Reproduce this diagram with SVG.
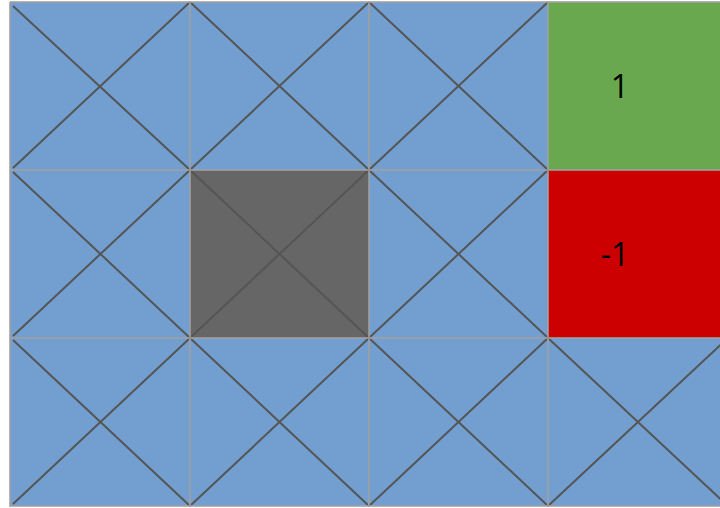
<svg xmlns="http://www.w3.org/2000/svg" width="720" height="508" viewBox="0 0 720 508">
<style>
.c{fill:#729fcf}
.g{stroke:#a0a0a0;stroke-opacity:0.8;stroke-width:2;fill:none}
.d{stroke:#555;stroke-width:2;fill:none}
.t{font-family:"Open Sans","Noto Sans",sans-serif;font-size:32px;fill:#000;text-anchor:middle}
</style>
<rect width="720" height="508" fill="#fff"/>
<g id="cells">
<rect id="c00" class="c" x="10" y="2" width="180" height="168"/>
<rect id="c01" class="c" x="190" y="2" width="179" height="168"/>
<rect id="c02" class="c" x="369" y="2" width="179" height="168"/>
<rect id="c10" class="c" x="10" y="170" width="180" height="168"/>
<rect id="c12" class="c" x="369" y="170" width="179" height="168"/>
<rect id="c20" class="c" x="10" y="338" width="180" height="168"/>
<rect id="c21" class="c" x="190" y="338" width="179" height="168"/>
<rect id="c22" class="c" x="369" y="338" width="179" height="168"/>
<rect id="c23" class="c" x="548" y="338" width="180" height="168"/>
</g>
<g id="wall"><rect x="190" y="170" width="179" height="168" fill="#666"/></g>
<g id="goal"><rect x="548" y="2" width="180" height="168" fill="#6aa84f"/><text class="t" x="620" y="98">1</text></g>
<g id="pit"><rect x="548" y="170" width="180" height="168" fill="#cc0000"/><text class="t" x="615" y="266">-1</text></g>
<g id="connectors">
<path class="d" d="M13,6 L190,170 M190,2 L13,168 M190,2 L369,170 M369,2 L190,170 M369,2 L548,170 M548,2 L369,170
M13,172 L190,338 M190,170 L13,336 M190,170 L369,338 M369,170 L190,338 M369,170 L548,338 M548,170 L369,338
M13,340 L190,506 M190,338 L13,504 M190,338 L369,506 M369,338 L190,506 M369,338 L548,506 M548,338 L369,506 M548,338 L728,506 M728,338 L548,506"/>
</g>
<g id="grid">
<path class="g" d="M10,2 H720 M10,170 H720 M10,338 H720 M10,506 H720 M10,2 V507 M190,2 V507 M369,2 V507 M548,2 V507"/>
</g>
</svg>
